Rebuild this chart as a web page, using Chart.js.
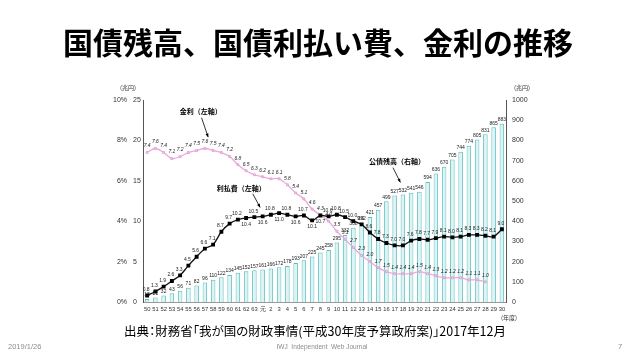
<!DOCTYPE html>
<html lang="ja">
<head>
<meta charset="utf-8">
<script src="https://cdn.jsdelivr.net/npm/chart.js@4.4.1/dist/chart.umd.min.js"></script>
<style>
  html, body { margin: 0; padding: 0; background: #fff; }
  #wrap { position: relative; width: 640px; height: 360px; overflow: hidden; font-family: "Noto Sans CJK JP", "Noto Sans", sans-serif; }
  #chart { position: absolute; left: 0; top: 0; }
  .title { position: absolute; left: 0; width: 636px; top: 26px; text-align: center; font-size: 30px; line-height: 31px; font-weight: 700; color: #000; }
  .source { position: absolute; left: 0; width: 630px; top: 324px; text-align: center; font-size: 12.5px; line-height: 14px; color: #000; font-feature-settings: "palt"; }
  .foot { position: absolute; top: 342px; font-size: 7.5px; line-height: 9px; color: #8c8c8c; font-family: "Liberation Sans", sans-serif; }
</style>
</head>
<body>
<div id="wrap">
  <canvas id="chart" width="640" height="360"></canvas>
  <div class="title">国債残高、国債利払い費、金利の推移</div>
  <div class="source">出典：財務省「我が国の財政事情(平成30年度予算政府案)」2017年12月</div>
  <div class="foot" style="left:8px">2019/1/26</div>
  <div class="foot" style="left:0;width:644px;text-align:center;font-size:6.5px">IWJ&nbsp; Independent&nbsp; Web Journal</div>
  <div class="foot" style="left:618px">7</div>
</div>
<script>
// 年度 (昭和50〜63, 平成元〜30)
const years = ["50","51","52","53","54","55","56","57","58","59","60","61","62","63","元",
  "2","3","4","5","6","7","8","9","10","11","12","13","14","15","16","17","18","19","20",
  "21","22","23","24","25","26","27","28","29","30"];

// 公債残高 (兆円, 右軸)
const debtBalance = [15, 22, 32, 43, 56, 71, 82, 96, 110, 122, 134, 145, 152, 157, 161,
  166, 172, 178, 193, 207, 225, 245, 258, 295, 332, 368, 392, 421, 457, 499, 527, 532, 541, 546,
  594, 636, 670, 705, 744, 774, 805, 831, 865, 883];

// 利払費 (兆円, 左軸)
const interestPayments = [0.8, 1.3, 1.9, 2.6, 3.3, 4.5, 5.6, 6.6, 7.1, 8.7, 9.7, 10.2, 10.4, 10.5, 10.6,
  10.8, 11.0, 10.8, 10.6, 10.7, 10.1, 10.7, 10.6, 10.8, 10.5, 10.0, 9.6, 8.6, 7.8, 7.3, 7.0, 7.0, 7.6, 7.8,
  7.7, 7.9, 8.1, 8.0, 8.1, 8.3, 8.3, 8.2, 8.1, 9.0];

// 金利 (%, 左軸)
const interestRate = [7.4, 7.6, 7.4, 7.1, 7.2, 7.4, 7.5, 7.6, 7.5, 7.4, 7.2, 6.8, 6.5, 6.3, 6.2,
  6.1, 6.1, 5.8, 5.4, 5.1, 4.6, 4.3, 4.0, 3.5, 3.1, 2.7, 2.3, 2.0, 1.7, 1.5, 1.4, 1.4, 1.4, 1.5,
  1.4, 1.3, 1.2, 1.2, 1.2, 1.1, 1.1, 1.0, null, null];

const yenTicks = [0, 5, 10, 15, 20, 25];
const pctTicks = [0, 2, 4, 6, 8, 10];
const debtTicks = [0, 100, 200, 300, 400, 500, 600, 700, 800, 900, 1000];

// 利払費ラベルを点の下に置く年度
const belowIdx = [12, 14, 16, 18, 20, 21];

const notes = [
  { text: "金利（左軸）", axis: "y", at: [6.5, 23.6], from: [6.6, 22.8], to: [7.4, 20.4] },
  { text: "利払費（左軸）", axis: "y", at: [11.4, 14.1], from: [12.8, 13.4], to: [13.7, 11.7] },
  { text: "公債残高（右軸）", axis: "y2", at: [30.3, 695], from: [29.8, 665], to: [30.7, 592] }
];

const tickFont = { family: "Liberation Sans", size: 7 };

const valueLabels = {
  id: "valueLabels",
  afterDatasetsDraw(chart) {
    const ctx = chart.ctx;
    ctx.save();
    ctx.fillStyle = "#222";
    ctx.textAlign = "center";
    chart.data.datasets.forEach((ds, di) => {
      const meta = chart.getDatasetMeta(di);
      meta.data.forEach((el, i) => {
        const v = ds.data[i];
        if (v == null) return;
        if (ds.label === "公債残高") {
          ctx.font = "5px Liberation Sans";
          ctx.textBaseline = "bottom";
          ctx.fillText(String(v), el.x, el.y - 1.5);
        } else if (ds.label === "利払費") {
          ctx.font = "5px Liberation Sans";
          if (belowIdx.includes(i)) {
            ctx.textBaseline = "top";
            ctx.fillText(v.toFixed(1), el.x, el.y + 4);
          } else {
            ctx.textBaseline = "bottom";
            ctx.fillText(v.toFixed(1), el.x - 1, el.y - 3.5);
          }
        } else {
          ctx.font = "italic 5px Liberation Sans";
          ctx.textBaseline = "bottom";
          ctx.fillText(v.toFixed(1), el.x, el.y - 4);
        }
      });
    });
    ctx.restore();
  },
  afterDraw(chart) {
    const ctx = chart.ctx;
    const xs = chart.scales.x;
    const area = chart.chartArea;
    ctx.save();
    ctx.fillStyle = "#000";
    ctx.strokeStyle = "#000";
    ctx.lineWidth = 0.8;
    ctx.font = "bold 7px 'Noto Sans CJK JP'";
    ctx.textAlign = "center";
    ctx.textBaseline = "middle";
    notes.forEach(n => {
      const ys = chart.scales[n.axis];
      ctx.fillText(n.text, xs.getPixelForValue(n.at[0]), ys.getPixelForValue(n.at[1]));
      const x1 = xs.getPixelForValue(n.from[0]), y1 = ys.getPixelForValue(n.from[1]);
      const x2 = xs.getPixelForValue(n.to[0]), y2 = ys.getPixelForValue(n.to[1]);
      ctx.beginPath();
      ctx.moveTo(x1, y1);
      ctx.lineTo(x2, y2);
      ctx.stroke();
      const a = Math.atan2(y2 - y1, x2 - x1);
      ctx.beginPath();
      ctx.moveTo(x2, y2);
      ctx.lineTo(x2 - 4 * Math.cos(a - 0.4), y2 - 4 * Math.sin(a - 0.4));
      ctx.lineTo(x2 - 4 * Math.cos(a + 0.4), y2 - 4 * Math.sin(a + 0.4));
      ctx.closePath();
      ctx.fill();
    });
    // 単位
    ctx.font = "6px 'Noto Sans CJK JP'";
    ctx.fillStyle = "#333";
    ctx.fillText("(兆円)", area.left - 15, area.top - 12);
    ctx.fillText("(兆円)", area.right + 16, area.top - 12);
    ctx.fillText("(年度)", area.right + 3, area.bottom + 16);
    ctx.restore();
  }
};

new Chart(document.getElementById("chart"), {
  data: {
    labels: years,
    datasets: [
      {
        type: "line",
        label: "利払費",
        data: interestPayments,
        yAxisID: "y",
        borderColor: "#111",
        borderWidth: 1.3,
        pointStyle: "rect",
        pointRadius: 1.8,
        pointBackgroundColor: "#000",
        pointBorderColor: "#000",
        tension: 0.35,
        order: 0
      },
      {
        type: "line",
        label: "金利",
        data: interestRate,
        yAxisID: "yPct",
        borderColor: "#eaaadb",
        borderWidth: 1.3,
        pointStyle: "rect",
        pointRadius: 1.4,
        pointBackgroundColor: "#f6d3ee",
        pointBorderColor: "#d98cc6",
        pointBorderWidth: 0.6,
        tension: 0.35,
        spanGaps: false,
        order: 1
      },
      {
        type: "bar",
        label: "公債残高",
        data: debtBalance,
        yAxisID: "y2",
        backgroundColor: "#ddf4f4",
        borderColor: "#5fbdbe",
        borderWidth: 1,
        categoryPercentage: 1,
        barPercentage: 0.55,
        order: 2
      }
    ]
  },
  options: {
    responsive: false,
    animation: false,
    layout: { padding: { left: 105, right: 100, top: 100, bottom: 38 } },
    plugins: { legend: { display: false }, tooltip: { enabled: false } },
    scales: {
      x: {
        offset: true,
        grid: { display: false, drawTicks: false },
        border: { display: true, color: "#9a9a9a", width: 1 },
        ticks: { autoSkip: false, maxRotation: 0, minRotation: 0, padding: 4, font: { family: "Liberation Sans", size: 5.8 }, color: "#333" },
        afterFit: s => { s.height = 20; }
      },
      yPct: {
        position: "left",
        weight: 1,
        min: 0, max: 10,
        afterBuildTicks: s => { s.ticks = pctTicks.map(v => ({ value: v })); },
        grid: { display: false, drawTicks: false },
        border: { display: false },
        ticks: { padding: 6, font: tickFont, color: "#333", callback: v => v + "%" },
        afterFit: s => { s.width = 28; }
      },
      y: {
        position: "left",
        weight: 0,
        min: 0, max: 25,
        afterBuildTicks: s => { s.ticks = yenTicks.map(v => ({ value: v })); },
        grid: { display: false, drawTicks: false },
        border: { display: true, color: "#555", width: 1 },
        ticks: { crossAlign: "far", padding: 0, font: tickFont, color: "#333", callback: v => String(v) },
        afterFit: s => { s.width = 10; }
      },
      y2: {
        position: "right",
        min: 0, max: 1000,
        afterBuildTicks: s => { s.ticks = debtTicks.map(v => ({ value: v })); },
        grid: { display: false, drawTicks: false },
        border: { display: true, color: "#555", width: 1 },
        ticks: { padding: 6, font: tickFont, color: "#333", callback: v => String(v) },
        afterFit: s => { s.width = 34; }
      }
    }
  },
  plugins: [valueLabels]
});
</script>
</body>
</html>
